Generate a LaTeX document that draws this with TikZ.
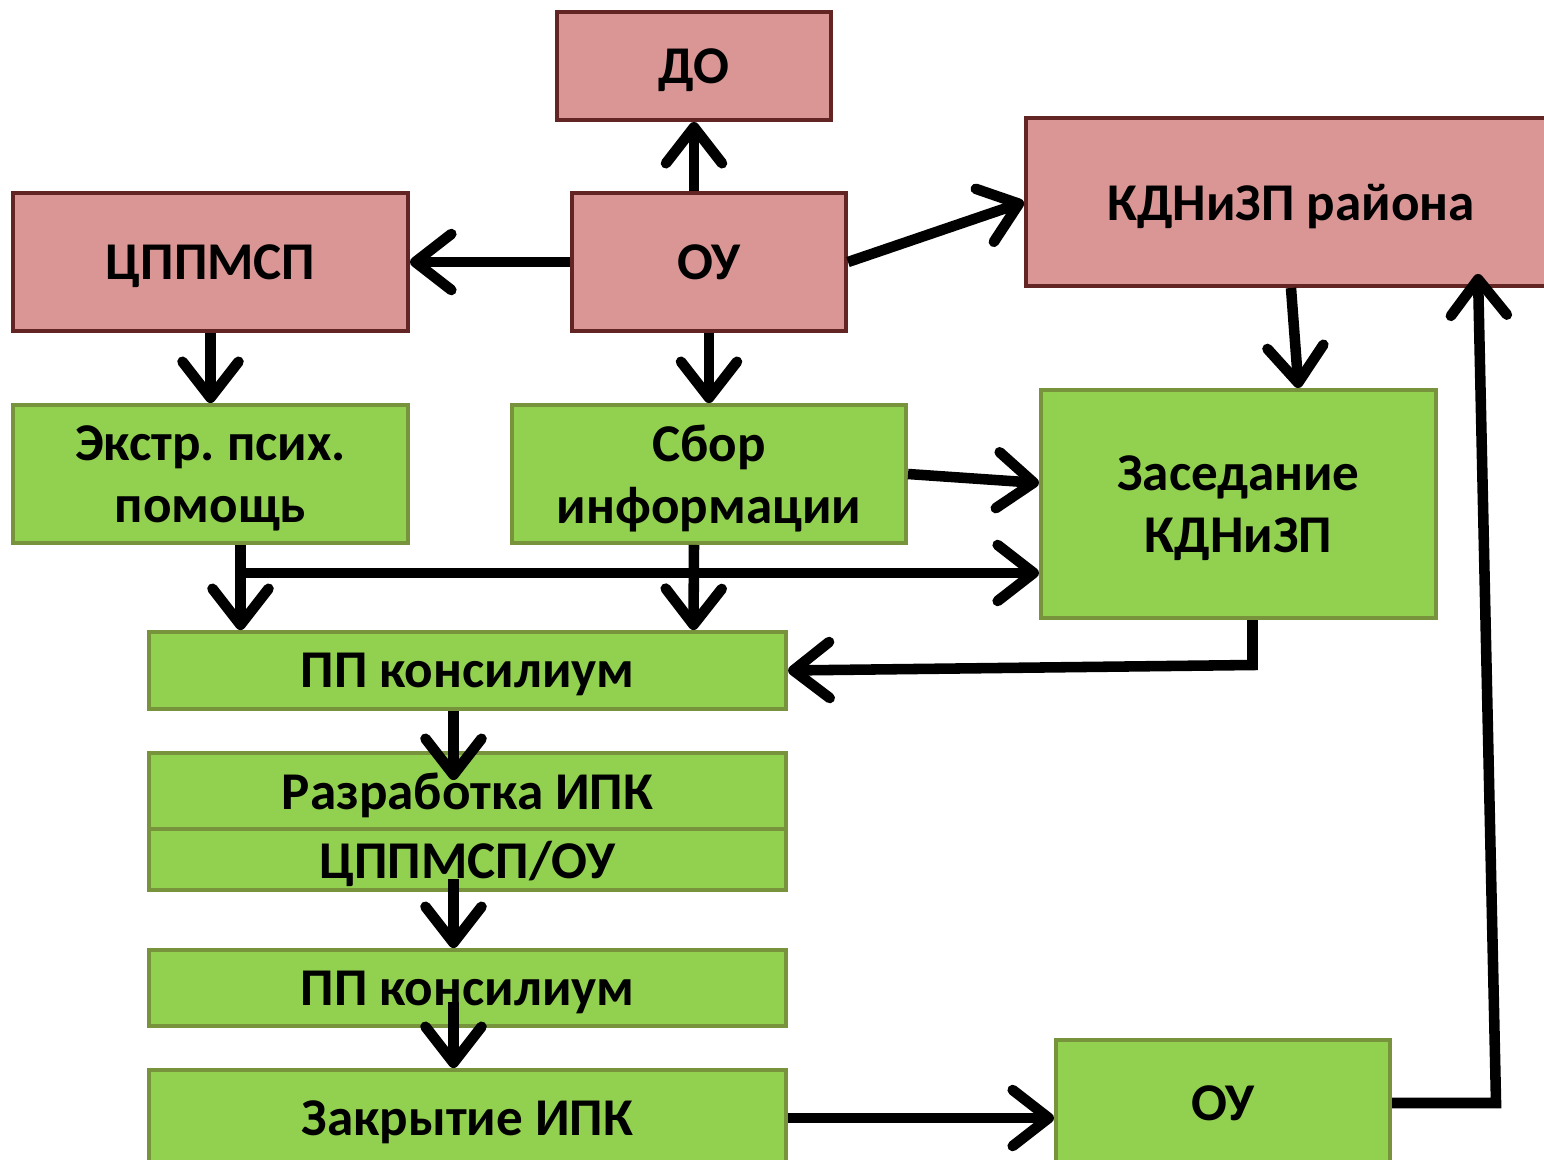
\documentclass[tikz,border=0pt]{standalone}
\usepackage{fontspec}
\setmainfont{Carlito}
\usetikzlibrary{arrows.meta,calc}
\definecolor{orgfill}{RGB}{217,150,148}
\definecolor{orgline}{RGB}{99,37,35}
\definecolor{actfill}{RGB}{146,208,80}
\definecolor{actline}{RGB}{119,147,60}
\tikzset{
  org/.style={draw=orgline,fill=orgfill,line width=1.1pt,inner sep=0pt,align=center,
              text depth=0pt,font=\fontsize{15.1}{17.8}\selectfont\bfseries},
  act/.style={org,draw=actline,fill=actfill},
  link/.style={line width=3pt,-{Straight Barb[length=3.6mm,width=5.6mm,round]}},
  wire/.style={line width=3pt}
}
\begin{document}
\begin{tikzpicture}[x=0.01cm,y=-0.01cm]
\useasboundingbox (0,0) rectangle (1544,1160);
\clip (0,0) rectangle (1544,1160);
% organisations
\node[org,minimum width=2.74cm,minimum height=1.08cm] (do) at (694,66) {ДО};
\node[org,minimum width=3.95cm,minimum height=1.38cm] (cpp) at (210.5,262) {ЦППМСП};
\node[org,minimum width=2.74cm,minimum height=1.38cm] (ou) at (709,262) {ОУ};
\node[org,minimum width=5.30cm,minimum height=1.68cm] (kdn) at (1291,202) {КДНиЗП района};
% steps
\node[act,minimum width=3.95cm,minimum height=1.38cm] (ekstr) at (210.5,474) {Экстр.\ псих.\\помощь};
\node[act,minimum width=3.94cm,minimum height=1.38cm] (sbor) at (709,474) {Сбор\\информации};
\node[act,minimum width=3.95cm,minimum height=2.28cm] (zas) at (1238.5,504) {Заседание\\КДНиЗП};
\node[act,minimum width=6.37cm,minimum height=0.77cm] (pp1) at (467.5,670.5) {ПП консилиум};
\node[act,minimum width=6.37cm,minimum height=0.76cm] (razr) at (467.5,791) {Разработка ИПК};
\node[act,minimum width=6.37cm,minimum height=0.61cm] (cppou) at (467.5,859.5) {ЦППМСП/ОУ};
\node[act,minimum width=6.37cm,minimum height=0.76cm] (pp2) at (467.5,988) {ПП консилиум};
\node[act,minimum width=6.37cm,minimum height=0.96cm] (zakr) at (467.5,1118) {Закрытие ИПК};
\node[act,minimum width=3.34cm,minimum height=1.26cm] (ou2) at (1223,1103) {ОУ};

% arrows
\draw[link] (ou.north -| do.south) -- (do.south);
\draw[link] (ou.west) -- (cpp.east);
\draw[link] (ou.east) -- (kdn.west);
\draw[link] (cpp.south) -- (ekstr.north);
\draw[link] (ou.south) -- (sbor.north);
\draw[link] (kdn.south) -- ($(zas.north)+(60,0)$);
\draw[link] (sbor.east) -- ($(zas.west)+(0,-21)$);
\coordinate (j) at ($(ekstr.south)+(30,28)$);
\draw[link] ($(ekstr.south)+(30,0)$) -- ($(pp1.north)+(-227,0)$);
\draw[link] (j) -- (j -| zas.west);
\draw[link] ($(sbor.south)+(-15,0)$) -- ($(pp1.north)+(226,0)$);
\coordinate (k) at ($(zas.south)+(14,45)$);
\draw[link] ($(zas.south)+(14,0)$) -- (k) -- (pp1.east);
\draw[link] ($(pp1.south)+(-14,0)$) -- ($(razr.north)+(-14,29)$);
\draw[link] ($(cppou.south)+(-14,-13)$) -- ($(pp2.north)+(-14,0)$);
\draw[link] ($(pp2.south)+(-14,-26)$) -- ($(zakr.north)+(-14,0)$);
\draw[link] (zakr.east) -- (zakr.east -| ou2.west);
\coordinate (r) at ($(ou2.east)+(104,0)$);
\draw[link] (ou2.east) -- (r) -- ($(kdn.south)+(187,-14)$);
\end{tikzpicture}
\end{document}
